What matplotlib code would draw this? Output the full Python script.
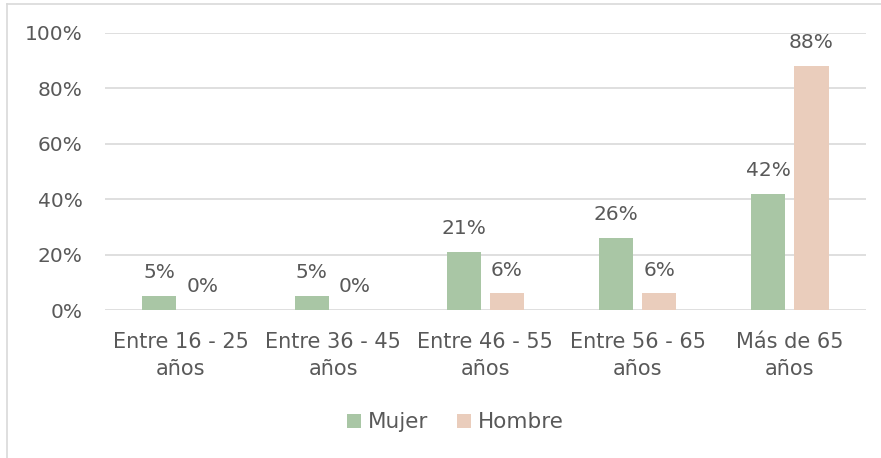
import matplotlib.pyplot as plt
import numpy as np
from matplotlib.lines import Line2D

categorias = ['Entre 16 - 25\naños', 'Entre 36 - 45\naños', 'Entre 46 - 55\naños',
              'Entre 56 - 65\naños', 'Más de 65\naños']
mujer = [5, 5, 21, 26, 42]
hombre = [0, 0, 6, 6, 88]
series = ['Mujer', 'Hombre']

verde = '#A9C6A5'
melocoton = '#EACDBC'
gris_texto = '#595959'

plt.rcParams['font.family'] = ['DejaVu Sans']
fs = 14.5

fig = plt.figure(figsize=(8.81, 4.58), dpi=100)
ax = fig.add_axes([0.119, 0.323, 0.864, 0.605])

x = np.arange(len(categorias))
ancho = 0.224
sep = 0.03
b1 = ax.bar(x - ancho / 2 - sep, np.array(mujer) / 100, ancho, color=verde, label=series[0], zorder=3)
b2 = ax.bar(x + ancho / 2 + sep, np.array(hombre) / 100, ancho, color=melocoton, label=series[1], zorder=3)

for barras, vals in ((b1, mujer), (b2, hombre)):
    for b, v in zip(barras, vals):
        ax.annotate(f'{v}%', (b.get_x() + b.get_width() / 2, v / 100),
                    xytext=(0, 10), textcoords='offset points', ha='center', va='bottom',
                    fontsize=fs, color=gris_texto)

ax.set_xlim(-0.5, len(categorias) - 0.5)
ax.set_ylim(0, 1.0)
ax.set_yticks(np.arange(0, 1.01, 0.2))
ax.set_yticklabels([f'{int(round(t * 100))}%' for t in np.arange(0, 1.01, 0.2)])
ax.set_xticks(x)
ax.set_xticklabels(categorias, linespacing=1.45)
ax.tick_params(axis='both', length=0, labelsize=fs, colors=gris_texto)
ax.tick_params(axis='x', labelsize=15)
ax.tick_params(axis='y', pad=16)
ax.tick_params(axis='x', pad=16)
ax.grid(axis='y', color='#D9D9D9', linewidth=1.2, zorder=0)
for s in ax.spines.values():
    s.set_visible(False)

leg = fig.legend(handles=[b1, b2], labels=series, loc='center', bbox_to_anchor=(0.517, 0.078),
                 ncol=2, frameon=False, fontsize=15.5, handlelength=0.65, handleheight=0.65,
                 handletextpad=0.35, columnspacing=1.3, labelcolor=gris_texto)

# marco del gráfico (borde gris a la izquierda y arriba)
fig.add_artist(Line2D([0.008, 0.008], [0, 0.991], transform=fig.transFigure, color='#D9D9D9', lw=1.2))
fig.add_artist(Line2D([0.008, 1], [0.991, 0.991], transform=fig.transFigure, color='#D9D9D9', lw=1.2))

fig.savefig('out.png', dpi=100)
